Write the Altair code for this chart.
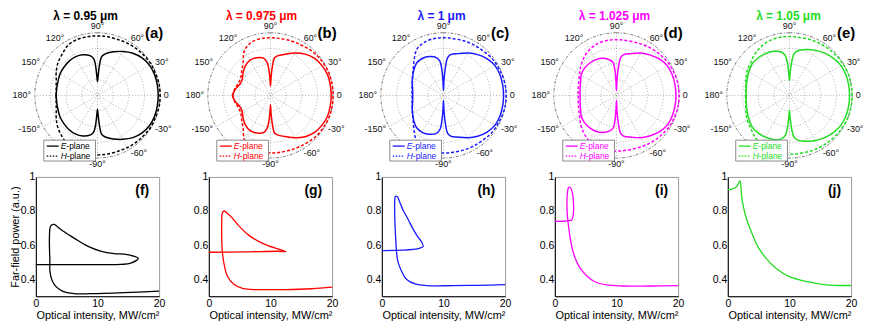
import math
import altair as alt
import pandas as pd

FONT = "Liberation Sans"

TITLES = ["λ = 0.95 μm", "λ = 0.975 μm", "λ = 1 μm", "λ = 1.025 μm", "λ = 1.05 μm"]
TITLE_DX = [-12, -9, -2, -2, -1]
COLORS = ["#000000", "#ff0000", "#1a1aff", "#ff00ff", "#22dd22"]
POLAR_TAGS = ["(a)", "(b)", "(c)", "(d)", "(e)"]
CURVE_TAGS = ["(f)", "(g)", "(h)", "(i)", "(j)"]

# far-field patterns, read at these angles (deg); the patterns are mirror-symmetric about 0 deg
ANGLES = [0, 10, 20, 30, 40, 50, 60, 70, 80, 84, 86, 88, 90, 92, 94, 96,
          100, 110, 120, 130, 140, 150, 160, 170, 180]

E_A = [0.97, 0.97, 0.97, 0.96, 0.93, 0.88, 0.81, 0.74, 0.67, 0.62, 0.50, 0.32, 0.22,
       0.32, 0.50, 0.59, 0.64, 0.69, 0.71, 0.71, 0.70, 0.69, 0.67, 0.66, 0.66]
H_A = [1.00, 1.00, 0.99, 0.99, 0.98, 0.97, 0.96, 0.95, 0.95, 0.95, 0.95, 0.95, 0.95,
       0.95, 0.95, 0.95, 0.95, 0.95, 0.93, 0.87, 0.82, 0.76, 0.70, 0.67, 0.66]
E_B = [0.97, 0.97, 0.97, 0.95, 0.92, 0.86, 0.78, 0.70, 0.64, 0.60, 0.48, 0.30, 0.15,
       0.30, 0.45, 0.53, 0.60, 0.64, 0.65, 0.62, 0.57, 0.52, 0.52, 0.57, 0.61]
H_B = [1.00, 1.00, 1.00, 0.99, 0.98, 0.96, 0.94, 0.93, 0.92, 0.92, 0.92, 0.92, 0.92,
       0.92, 0.92, 0.92, 0.92, 0.90, 0.83, 0.68, 0.60, 0.55, 0.55, 0.58, 0.60]
E_C = [0.96, 0.96, 0.96, 0.95, 0.91, 0.85, 0.78, 0.71, 0.66, 0.60, 0.45, 0.25, 0.08,
       0.25, 0.45, 0.55, 0.61, 0.66, 0.68, 0.67, 0.62, 0.57, 0.53, 0.50, 0.49]
H_C = [1.00, 1.00, 0.99, 0.98, 0.97, 0.95, 0.94, 0.93, 0.92, 0.92, 0.92, 0.92, 0.92,
       0.92, 0.92, 0.92, 0.92, 0.90, 0.85, 0.73, 0.63, 0.57, 0.53, 0.51, 0.50]
E_D = [0.95, 0.95, 0.95, 0.94, 0.90, 0.84, 0.78, 0.71, 0.66, 0.60, 0.45, 0.25, 0.08,
       0.25, 0.45, 0.53, 0.57, 0.63, 0.66, 0.67, 0.67, 0.65, 0.61, 0.59, 0.58]
H_D = [1.00, 1.00, 0.99, 0.98, 0.96, 0.94, 0.92, 0.90, 0.89, 0.89, 0.89, 0.89, 0.89,
       0.89, 0.89, 0.89, 0.89, 0.88, 0.85, 0.80, 0.74, 0.68, 0.64, 0.62, 0.61]
E_E = [0.96, 0.96, 0.96, 0.95, 0.92, 0.88, 0.83, 0.78, 0.72, 0.66, 0.55, 0.38, 0.24,
       0.38, 0.55, 0.64, 0.70, 0.75, 0.77, 0.78, 0.78, 0.75, 0.72, 0.70, 0.69]
H_E = [1.00, 1.00, 1.00, 0.99, 0.98, 0.97, 0.96, 0.95, 0.94, 0.94, 0.94, 0.94, 0.94,
       0.94, 0.94, 0.94, 0.94, 0.93, 0.90, 0.86, 0.81, 0.78, 0.74, 0.71, 0.70]
E_R = [E_A, E_B, E_C, E_D, E_E]
H_R = [H_A, H_B, H_C, H_D, H_E]

SPOKES = [0, 30, 60, 90, 120, 150]
RINGS = [0.25, 0.5, 0.75]
TICK_ANGLES = [0, 30, 60, 90, 120, 150, 180, -150, -90, -60, -30]
TICK_TEXT = ["0", "30°", "60°", "90°", "120°", "150°", "180°", "-150°", "-90°", "-60°", "-30°"]

# far-field power vs optical intensity (path order along the curve)
X_F = [0, 5, 10, 13.8, 15.4, 16.6, 15.7, 14.3, 12.7, 10.5, 8.4, 6.2, 4.6, 3.6, 2.97, 2.5,
       2.3, 2.2, 2.22, 2.27, 2.3, 2.6, 3.2, 4.3, 6.2, 8.9, 14.3, 20]
Y_F = [0.486, 0.486, 0.486, 0.487, 0.494, 0.522, 0.537, 0.547, 0.55, 0.565, 0.594, 0.641,
       0.678, 0.705, 0.721, 0.716, 0.700, 0.63, 0.57, 0.518, 0.443, 0.396, 0.359, 0.33,
       0.315, 0.315, 0.321, 0.33]
X_G = [0, 5.9, 11.3, 12.5, 11.3, 9.7, 8.0, 6.4, 4.8, 3.7, 2.9, 2.5, 2.2, 2.1, 2.1, 2.2,
       2.5, 3.0, 4.0, 5.6, 8.0, 12.4, 16.7, 20]
Y_G = [0.558, 0.56, 0.564, 0.562, 0.577, 0.595, 0.623, 0.66, 0.716, 0.763, 0.79, 0.8,
       0.79, 0.744, 0.633, 0.558, 0.484, 0.419, 0.372, 0.344, 0.339, 0.339, 0.344, 0.353]
X_H = [0, 3.2, 5.9, 6.7, 6.4, 5.9, 5.1, 4.3, 3.4, 2.9, 2.5, 2.2, 2.1, 2.1, 2.2, 2.35,
       2.6, 3.2, 4.0, 5.4, 7.5, 11.4, 15.7, 20]
Y_H = [0.568, 0.57, 0.579, 0.592, 0.621, 0.645, 0.692, 0.749, 0.809, 0.853, 0.885, 0.885,
       0.862, 0.768, 0.674, 0.579, 0.504, 0.447, 0.4, 0.372, 0.362, 0.362, 0.364, 0.368]
X_I = [0, 1.44, 2.24, 2.77, 2.99, 3.04, 2.88, 2.5, 2.24, 2.03, 1.97, 2.03, 2.13, 2.4,
       2.77, 3.3, 4.1, 5.2, 6.5, 8.4, 11, 15.3, 20]
Y_I = [0.74, 0.74, 0.743, 0.749, 0.777, 0.834, 0.9, 0.938, 0.938, 0.9, 0.834, 0.777,
       0.74, 0.664, 0.589, 0.523, 0.466, 0.419, 0.385, 0.366, 0.36, 0.36, 0.362]
X_J = [0, 0.8, 1.3, 1.65, 1.95, 2.1, 2.25, 2.51, 3.05, 3.85, 4.92, 6.26, 7.86, 10, 12.7,
       15.9, 20]
Y_J = [0.925, 0.93, 0.94, 0.955, 0.977, 0.96, 0.886, 0.829, 0.752, 0.675, 0.588, 0.521,
       0.463, 0.415, 0.387, 0.367, 0.363]
CURVES_X = [X_F, X_G, X_H, X_I, X_J]
CURVES_Y = [Y_F, Y_G, Y_H, Y_I, Y_J]

# layout
PW = 124          # panel plot width
R_PX = 63         # outer ring radius in px
D = (PW / 2) / R_PX
CH = 120          # bottom plot height
GRID = "#8a8a8a"


def one():
    return pd.DataFrame({"k": [0]})


def polar_frame(e, h):
    rows = []
    full_ang = [-a for a in ANGLES[::-1]] + ANGLES[1:]
    for name, r in (("E", e), ("H", h)):
        full_r = r[::-1] + r[1:]
        for i, (a, v) in enumerate(zip(full_ang, full_r)):
            rows.append({"series": name, "angle": a, "r": v, "i": i})
    return pd.DataFrame(rows)


def ring(frac, color, dash, width):
    return alt.Chart(one()).mark_arc(
        theta=0, theta2=2 * math.pi, filled=False, color=color, strokeWidth=width,
        strokeDash=dash).encode(radius=alt.value(frac * R_PX))


def polar_panel(k):
    color = COLORS[k]
    sc = alt.Scale(domain=[-D, D], nice=False, zero=False)
    ex = alt.X("px:Q", scale=sc, axis=None)
    ey = alt.Y("py:Q", scale=sc, axis=None)

    spokes = alt.Chart(pd.DataFrame({"a": SPOKES})).transform_calculate(
        px="cos(datum.a*PI/180)", py="sin(datum.a*PI/180)",
        qx="-cos(datum.a*PI/180)", qy="-sin(datum.a*PI/180)",
    ).mark_rule(color=GRID, strokeWidth=0.7, strokeDash=[1, 2]).encode(
        x=ex, y=ey, x2="qx:Q", y2="qy:Q")

    rings = [ring(f, GRID, [1, 2], 0.7) for f in RINGS]
    outer = ring(1.0, "#555555", [3, 1.5, 1, 1.5], 0.8)

    curves = alt.Chart(polar_frame(E_R[k], H_R[k])).transform_calculate(
        px="datum.r*cos(datum.angle*PI/180)", py="datum.r*sin(datum.angle*PI/180)")
    e_line = curves.transform_filter("datum.series == 'E'").mark_line(
        color=color, strokeWidth=1.5, interpolate="catmull-rom").encode(
        x=ex, y=ey, order="i:Q")
    h_line = curves.transform_filter("datum.series == 'H'").mark_line(
        color=color, strokeWidth=1.5, strokeDash=[3, 2], interpolate="catmull-rom").encode(
        x=ex, y=ey, order="i:Q")

    tdf = pd.DataFrame({"a": TICK_ANGLES, "t": TICK_TEXT})
    side = alt.Chart(tdf).transform_calculate(
        px="1.06*cos(datum.a*PI/180)", py="1.06*sin(datum.a*PI/180)",
        c="cos(datum.a*PI/180)")
    mid = alt.Chart(tdf).transform_calculate(
        px="1.1*cos(datum.a*PI/180)", py="1.1*sin(datum.a*PI/180)",
        c="cos(datum.a*PI/180)")
    tk = dict(fontSize=9, color="#111111", baseline="middle")
    t_right = side.transform_filter("datum.c > 0.1").mark_text(align="left", **tk).encode(
        x=ex, y=ey, text="t:N")
    t_left = side.transform_filter("datum.c < -0.1").mark_text(align="right", **tk).encode(
        x=ex, y=ey, text="t:N")
    t_mid = mid.transform_filter("abs(datum.c) <= 0.1").mark_text(align="center", **tk).encode(
        x=ex, y=ey, text="t:N")

    box = alt.Chart(one()).mark_rect(fill="white", stroke=GRID, strokeWidth=1).encode(
        x=alt.value(8), x2=alt.value(60), y=alt.value(107), y2=alt.value(128))
    leg_e = alt.Chart(one()).mark_rule(color=color, strokeWidth=1.3).encode(
        x=alt.value(11), x2=alt.value(23), y=alt.value(113))
    leg_h = alt.Chart(one()).mark_rule(color=color, strokeWidth=1.3, strokeDash=[1.5, 1.5]).encode(
        x=alt.value(11), x2=alt.value(23), y=alt.value(123))
    lt = dict(fontSize=8.5, color=color, align="left", baseline="middle")
    txt_e1 = alt.Chart(one()).mark_text(fontStyle="italic", **lt).encode(
        x=alt.value(25), y=alt.value(113), text=alt.value("E"))
    txt_e2 = alt.Chart(one()).mark_text(**lt).encode(
        x=alt.value(30.7), y=alt.value(113), text=alt.value("-plane"))
    txt_h1 = alt.Chart(one()).mark_text(fontStyle="italic", **lt).encode(
        x=alt.value(25), y=alt.value(123), text=alt.value("H"))
    txt_h2 = alt.Chart(one()).mark_text(**lt).encode(
        x=alt.value(31.2), y=alt.value(123), text=alt.value("-plane"))

    tag = alt.Chart(one()).mark_text(fontSize=15, fontWeight="bold", color="black",
                                     align="center", baseline="middle").encode(
        x=alt.value(119), y=alt.value(-1), text=alt.value(POLAR_TAGS[k]))

    return alt.layer(
        spokes, *rings, outer, e_line, h_line, t_right, t_left, t_mid,
        box, leg_e, leg_h, txt_e1, txt_e2, txt_h1, txt_h2, tag,
    ).properties(
        width=PW, height=PW,
        title=alt.TitleParams(TITLES[k], color=color, fontSize=12, fontWeight="bold",
                              anchor="middle", offset=0, dx=TITLE_DX[k]),
    )


def curve_panel(k):
    xs, ys = CURVES_X[k], CURVES_Y[k]
    assert len(xs) == len(ys)
    df = pd.DataFrame({"x": xs, "y": ys, "i": list(range(len(xs)))})
    common = dict(ticks=False, grid=False, domainColor="black", labelColor="black",
                  titleColor="black", labelFontSize=10.5, titleFontSize=11,
                  titleFontWeight="normal")
    xax = alt.Axis(values=[0, 10, 20], title="Optical intensity, MW/cm²", labelFlush=False,
                   titlePadding=1, labelPadding=2, **common)
    yax = alt.Axis(values=[0.4, 0.6, 0.8, 1.0], format="~g", labelPadding=1,
                   title="Far-field power (a.u.)" if k == 0 else "", titlePadding=0, **common)
    line = alt.Chart(df).mark_line(color=COLORS[k], strokeWidth=1.3,
                                   interpolate="catmull-rom").encode(
        x=alt.X("x:Q", scale=alt.Scale(domain=[0, 20], nice=False), axis=xax),
        y=alt.Y("y:Q", scale=alt.Scale(domain=[0.3, 1.0], nice=False, zero=False), axis=yax),
        order="i:Q",
    )
    tag = alt.Chart(one()).mark_text(fontSize=14, fontWeight="bold", color="black",
                                     align="right", baseline="middle").encode(
        x=alt.value(PW - 10), y=alt.value(14), text=alt.value(CURVE_TAGS[k]))
    return alt.layer(line, tag).properties(
        width=PW, height=CH, view=alt.ViewBackground(stroke="#9a9a9a", strokeWidth=1))


panels = [polar_panel(k) for k in range(5)] + [curve_panel(k) for k in range(5)]

chart = alt.concat(*panels, columns=5, bounds="flush",
                   spacing={"row": 20, "column": 50}).properties(
    padding=0
).configure(font=FONT).configure_view(strokeWidth=0)

chart.save("out.html", embed_options={"renderer": "svg", "actions": False})
